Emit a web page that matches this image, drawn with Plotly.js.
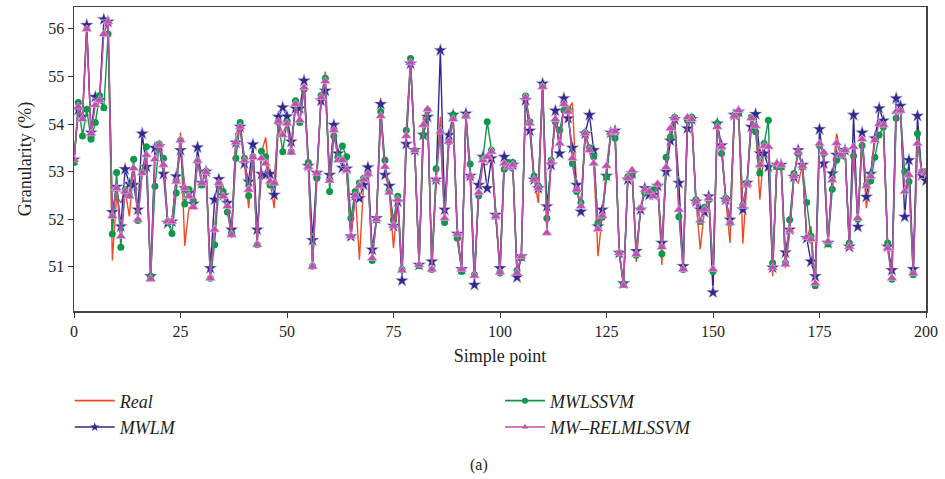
<!DOCTYPE html>
<html>
<head>
<meta charset="utf-8">
<script src="https://cdn.plot.ly/plotly-3.0.1.min.js"></script>
<style>
html,body{margin:0;padding:0;background:#fff;}
#chart{width:945px;height:479px;}
</style>
</head>
<body>
<div id="chart"></div>
<script>
// Sample index 0..200
var samplePoints = [];
for (var k = 0; k <= 200; k++) samplePoints.push(k);

var realValues = [
53.2,54.3,54.2,56.0,53.8,54.45,54.55,55.95,56.1,51.13,
52.5,52.34,52.6,52.06,53.1,52.2,53.0,53.3,50.74,53.3,
53.66,53.2,51.95,51.95,52.75,53.82,51.44,52.25,52.25,53.2,
53.0,53.0,50.76,51.7,52.8,52.7,52.2,51.6,53.8,53.9,
53.2,52.23,53.3,51.46,53.4,53.72,52.8,52.23,54.0,53.8,
54.0,53.45,54.4,54.1,54.8,53.1,51.0,52.9,54.5,55.1,
52.8,53.9,53.3,53.2,53.0,51.6,52.6,51.15,52.8,52.95,
51.2,52.0,54.2,53.05,52.6,51.39,52.4,50.92,53.8,55.3,
53.45,51.04,54.15,54.3,50.94,52.8,54.15,52.0,53.6,54.1,
51.55,50.95,54.15,52.9,50.81,52.55,53.15,53.15,53.4,52.05,
50.88,53.15,53.2,53.15,50.87,51.22,54.5,54.0,52.85,52.34,
54.8,51.7,53.2,54.05,53.6,54.4,54.3,54.45,52.6,52.2,
53.8,53.4,53.2,51.22,52.05,53.0,53.8,53.8,51.29,50.6,
52.85,53.0,51.1,52.2,52.6,52.55,52.5,52.75,51.04,53.15,
53.9,54.05,52.3,50.95,54.1,54.1,52.4,51.37,52.2,52.44,
50.95,53.95,53.5,52.4,51.5,54.15,54.3,51.49,52.75,54.1,
53.95,52.41,53.5,53.5,50.8,53.15,53.15,50.97,51.7,52.9,
52.75,53.15,51.6,51.85,50.65,53.6,53.4,51.5,52.8,53.8,
53.4,53.45,51.42,53.5,52.0,53.7,52.23,52.9,53.8,54.0,
53.95,51.39,50.76,54.3,54.3,52.6,52.9,50.86,53.6,53.0,
52.97
];

var mwlmValues = [
53.25,54.3,54.15,56.08,53.82,54.57,54.5,56.2,56.15,52.15,
52.68,51.85,53.05,52.74,52.72,52.2,53.8,53.1,50.8,53.5,
53.53,52.95,51.92,51.95,52.9,53.45,52.65,52.55,52.32,53.51,
52.76,53.0,50.97,52.41,52.84,52.5,52.34,51.78,53.61,53.94,
53.17,52.79,53.57,51.78,52.95,52.93,52.95,52.51,54.15,54.35,
54.16,53.63,54.33,54.33,54.91,53.12,51.56,52.97,54.49,54.7,
52.93,53.98,53.38,53.08,53.06,51.64,52.5,52.44,52.72,53.09,
51.36,52.02,54.42,52.93,52.7,51.86,52.37,50.71,53.58,55.27,
53.45,51.04,53.77,54.15,51.11,52.83,55.55,52.2,53.77,54.19,
51.69,50.95,54.22,52.91,50.62,52.72,53.31,52.65,53.28,52.09,
50.97,53.31,53.1,53.14,50.78,51.22,54.5,53.86,52.83,52.65,
54.85,52.27,53.14,54.28,53.38,54.54,54.12,53.5,52.72,52.16,
53.8,54.19,53.45,51.85,52.2,52.91,53.82,53.86,51.29,50.65,
52.83,52.96,51.33,52.2,52.65,52.51,52.51,52.7,51.5,53.0,
53.65,54.1,52.76,51.01,53.91,54.1,52.37,52.2,52.15,52.48,
50.46,54.01,53.55,52.41,51.99,54.19,54.26,52.2,52.76,53.94,
54.21,53.38,53.38,53.1,50.98,53.14,53.14,51.3,51.78,52.89,
53.45,53.14,51.6,51.11,50.8,53.89,53.17,51.5,52.96,53.35,
53.35,53.45,51.42,54.19,51.84,53.82,52.47,52.95,53.7,54.33,
54.07,51.42,50.93,54.54,54.38,52.05,53.24,50.95,54.17,52.92,
52.81
];

var mwlssvmValues = [
53.19,54.45,53.75,54.31,53.68,54.03,54.6,54.34,55.89,51.69,
52.98,51.41,52.62,52.5,53.26,51.97,53.0,53.52,50.8,52.69,
53.58,53.28,51.95,51.7,52.55,53.66,52.32,52.62,52.39,53.21,
52.72,53.01,50.76,51.46,52.69,52.58,52.15,51.71,53.28,54.03,
53.28,52.49,53.31,51.46,53.43,53.31,52.72,52.76,54.03,53.42,
54.05,53.42,54.49,54.03,54.73,53.19,51.01,52.86,54.6,54.96,
52.58,53.75,53.31,53.54,53.31,52.02,52.58,52.76,52.86,52.95,
51.13,51.99,54.26,53.24,52.58,51.99,52.48,50.94,53.87,55.38,
53.45,51.02,53.77,54.29,50.94,53.06,53.84,51.93,53.63,54.19,
51.6,50.9,54.17,53.16,50.83,52.49,53.28,54.05,53.45,52.06,
50.87,53.05,53.19,53.19,50.92,51.19,54.59,54.05,52.91,52.7,
54.8,52.02,53.24,54.05,53.87,54.29,54.31,53.17,52.58,52.35,
53.82,53.5,53.31,51.92,52.04,52.89,53.8,53.7,51.29,50.64,
52.89,52.93,51.24,52.23,52.55,52.58,52.62,52.72,51.27,53.3,
53.73,54.14,52.05,50.94,54.08,54.14,52.41,51.95,52.25,52.41,
50.9,54.01,53.38,52.44,51.92,54.19,54.22,52.3,52.76,54.14,
53.84,52.97,53.59,54.08,51.08,53.1,53.09,51.08,51.99,52.96,
53.38,53.1,52.35,51.64,50.6,53.55,53.38,51.48,52.63,53.24,
53.35,53.45,51.5,53.33,52.0,53.55,52.72,52.8,53.3,53.77,
53.94,51.5,50.74,54.12,54.28,53.0,52.79,50.83,53.8,53.0,
53.0
];

var mwRelmValues = [
53.25,54.36,54.1,55.99,53.8,54.4,54.5,55.89,56.15,52.06,
52.65,51.64,52.58,52.48,53.07,51.99,52.97,53.35,50.74,53.26,
53.56,53.14,51.95,51.95,52.79,53.66,52.65,52.48,52.25,53.23,
52.76,52.99,50.76,51.78,52.76,52.48,52.27,51.67,53.61,53.94,
53.23,52.62,53.3,51.46,53.28,53.17,52.79,52.76,54.05,53.77,
54.01,53.4,54.42,54.08,54.77,53.1,51.0,52.97,54.56,54.9,
52.81,53.87,53.24,53.24,53.03,51.64,52.49,52.7,52.83,52.95,
51.18,52.0,54.17,53.1,52.56,51.86,52.41,50.92,53.75,55.29,
53.45,51.04,53.98,54.31,50.94,52.83,53.84,52.02,53.63,54.1,
51.69,50.95,54.17,52.91,50.81,52.56,53.24,53.31,53.42,52.06,
50.88,53.17,53.1,53.14,50.87,51.22,54.56,54.01,52.83,52.65,
54.78,51.71,53.2,54.1,53.59,54.42,54.26,53.28,52.62,52.27,
53.8,53.45,53.17,51.79,52.07,53.12,53.82,53.84,51.29,50.6,
52.86,53.03,51.26,52.23,52.62,52.58,52.48,52.74,51.41,53.09,
53.91,54.12,52.2,50.95,54.14,54.1,52.37,51.97,52.2,52.44,
50.95,53.94,53.52,52.41,51.92,54.17,54.29,52.27,52.74,54.12,
53.96,53.14,53.54,53.52,50.98,53.17,53.14,51.05,51.76,52.9,
53.42,53.12,51.62,51.58,50.65,53.59,53.4,51.53,52.82,53.6,
53.35,53.45,51.42,53.52,52.02,53.68,52.7,52.9,53.66,54.0,
53.98,51.39,50.76,54.26,54.28,52.58,52.93,50.86,53.59,53.0,
52.97
];

var seriesNames = ['Real', 'MWLM', 'MWLSSVM', 'MW\u2013RELMLSSVM'];
var xTickValues = [0, 25, 50, 75, 100, 125, 150, 175, 200];
var yTickValues = [51, 52, 53, 54, 55, 56];

var serif = '"Liberation Serif", "DejaVu Serif", serif';
var colors = ['#ef4a23', '#2e2a8f', '#0c9a48', '#c04fae'];
var symbols = [null, 'star', 'circle', 'triangle-up'];
var dataSizes = [0, 10, 7, 9];
var legendSizes = [0, 7, 6, 6];
var seriesValues = [realValues, mwlmValues, mwlssvmValues, mwRelmValues];
var legendIds = ['legend', 'legend', 'legend2', 'legend2'];

var traces = [];
// data traces (no legend)
for (var s = 0; s < 4; s++) {
  var t = {
    x: samplePoints, y: seriesValues[s], name: seriesNames[s], type: 'scatter',
    mode: s === 0 ? 'lines' : 'lines+markers',
    line: {color: colors[s], width: 1.4}, showlegend: false
  };
  if (s > 0) {
    t.marker = {symbol: symbols[s], size: dataSizes[s], color: colors[s],
      line: {color: s === 2 ? colors[s] : 'rgba(225,205,235,0.9)', width: s === 2 ? 0 : 0.6}};
  }
  traces.push(t);
}
// legend entries (small markers, no data)
for (var s2 = 0; s2 < 4; s2++) {
  var lt = {
    x: [null], y: [null], name: seriesNames[s2], type: 'scatter',
    mode: s2 === 0 ? 'lines' : 'lines+markers',
    line: {color: colors[s2], width: 1.6}, legend: legendIds[s2], showlegend: true
  };
  if (s2 > 0) lt.marker = {symbol: symbols[s2], size: legendSizes[s2], color: colors[s2]};
  traces.push(lt);
}

var layout = {
  width: 945, height: 479,
  margin: {l: 74, r: 19, t: 7, b: 168},
  paper_bgcolor: '#ffffff', plot_bgcolor: '#ffffff',
  font: {family: serif, size: 16, color: '#231f20'},
  showlegend: true,
  xaxis: {
    range: [0, 200], tickvals: xTickValues, ticktext: xTickValues.map(String),
    ticks: 'outside', ticklen: 5, tickwidth: 1, tickcolor: '#333',
    showline: true, linecolor: '#444', linewidth: 1.5, mirror: true,
    showgrid: false, zeroline: false,
    tickfont: {family: serif, size: 16},
    title: {text: 'Simple point', font: {family: serif, size: 18}, standoff: 10}
  },
  yaxis: {
    range: [50.07, 56.46], tickvals: yTickValues, ticktext: yTickValues.map(String),
    ticks: 'outside', ticklen: 5, tickwidth: 1, tickcolor: '#333',
    showline: true, linecolor: '#444', linewidth: 1.5, mirror: true,
    showgrid: false, zeroline: false,
    tickfont: {family: serif, size: 16},
    title: {text: 'Granularity (%)', font: {family: serif, size: 18}, standoff: 12}
  },
  legend: {
    x: -0.005, y: -0.235, xanchor: 'left', yanchor: 'top', orientation: 'v',
    font: {family: serif, size: 18, style: 'italic'}, bgcolor: 'rgba(0,0,0,0)',
    itemwidth: 40, tracegroupgap: 0
  },
  legend2: {
    x: 0.5, y: -0.235, xanchor: 'left', yanchor: 'top', orientation: 'v',
    font: {family: serif, size: 18, style: 'italic'}, bgcolor: 'rgba(0,0,0,0)',
    itemwidth: 40, tracegroupgap: 0
  },
  annotations: [{
    text: '(a)', xref: 'paper', yref: 'paper', x: 0.475, y: -0.505,
    xanchor: 'center', yanchor: 'middle', showarrow: false,
    font: {family: serif, size: 16}
  }]
};

Plotly.newPlot('chart', traces, layout, {displayModeBar: false, staticPlot: true});
</script>
</body>
</html>
